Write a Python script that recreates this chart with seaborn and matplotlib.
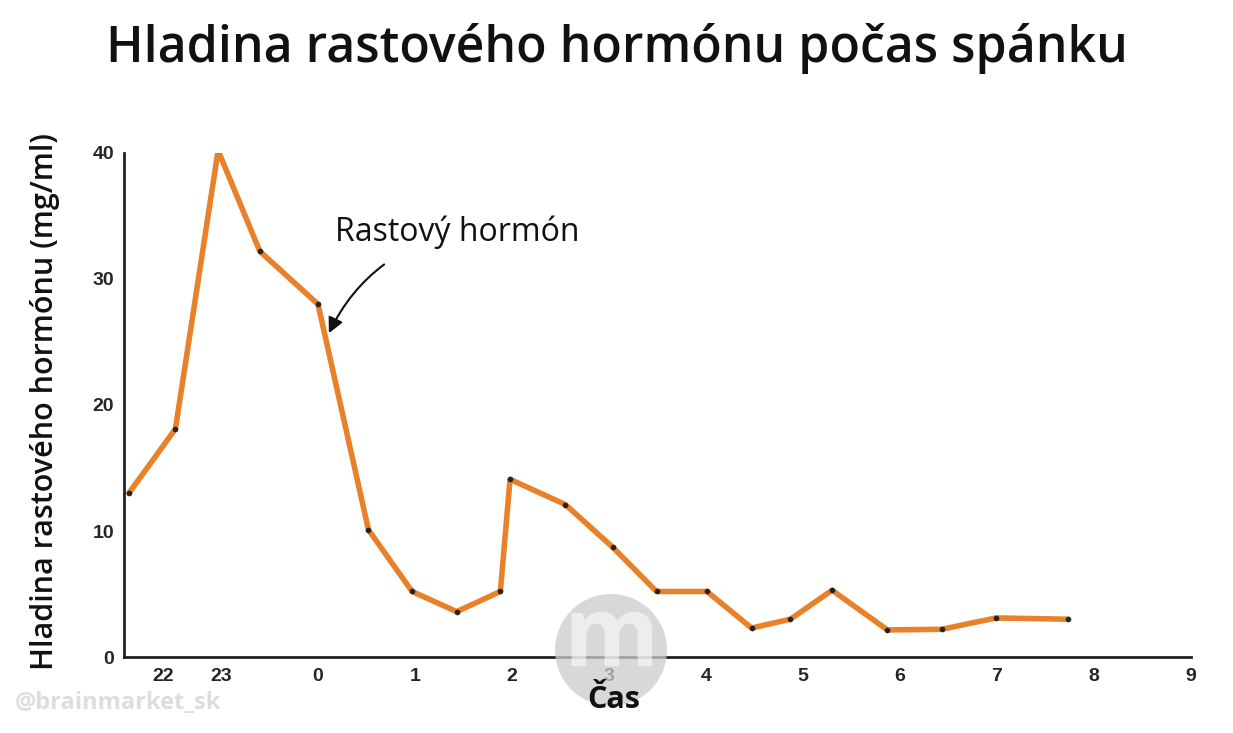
import numpy as np
import pandas as pd
import matplotlib
matplotlib.use("Agg")
import matplotlib.pyplot as plt
import seaborn as sns
from matplotlib.patches import Ellipse

# hours since 22:00 and hormone level
hours = [0.05, 0.53, 0.97, 1.40, 2.00, 2.52, 2.97, 3.43, 3.88, 3.98, 4.55,
         5.04, 5.49, 6.01, 6.47, 6.87, 7.30, 7.87, 8.43, 8.99, 9.73]
level = [13.0, 18.1, 40.2, 32.2, 28.0, 10.1, 5.2, 3.6, 5.2, 14.1, 12.1,
         8.7, 5.2, 5.2, 2.3, 3.0, 5.3, 2.15, 2.2, 3.1, 3.0]
tick_pos = [0, 1, 2, 3, 4, 5, 6, 7, 8, 9, 10, 11]
tick_labels = ["", "23", "0", "1", "2", "3", "4", "5", "6", "7", "8", "9"]
# the "22" label is printed a little right of the axis corner
first_pos = [0.4]
first_label = ["22"]
y_ticks = [0, 10, 20, 30, 40]

title = "Hladina rastového hormónu počas spánku"
y_label = "Hladina rastového hormónu (mg/ml)"
x_label = "Čas"
note = "Rastový hormón"
watermark = "@brainmarket_sk"

df = pd.DataFrame({"cas": hours, "hladina": level})

sns.set_style("white")
plt.rcParams["font.family"] = ["Open Sans", "DejaVu Sans"]

W, H = 1233, 733
fig = plt.figure(figsize=(W / 100, H / 100), dpi=100)
ax = fig.add_axes([124 / W, 1 - 657 / H, (1191 - 124) / W, (657 - 153) / H])

sns.lineplot(data=df, x="cas", y="hladina", ax=ax, color="#E8812A",
             linewidth=4, zorder=2)
sns.scatterplot(data=df, x="cas", y="hladina", ax=ax, color="#222222",
                s=14, edgecolor=None, zorder=3)

ax.set_xlim(0, 11)
ax.set_ylim(0, 40)
ax.set_xticks(tick_pos)
ax.set_xticklabels(tick_labels)
ax.set_xticks(first_pos, minor=True)
ax.set_xticklabels(first_label, minor=True)
ax.set_yticks(y_ticks)
ax.set_yticklabels([str(v) for v in y_ticks])
for lab in (ax.get_xticklabels() + ax.get_xticklabels(minor=True)
            + ax.get_yticklabels()):
    lab.set_fontfamily("Liberation Sans")
    lab.set_fontweight("bold")
    lab.set_fontsize(14)

ax.tick_params(axis="x", direction="in", length=7, width=1.5, pad=8, color="#222222")
ax.tick_params(axis="x", which="minor", length=0, pad=8)
ax.tick_params(axis="y", direction="out", length=5, width=1.5, pad=2, color="#222222")
sns.despine(ax=ax)
for side in ["left", "bottom"]:
    ax.spines[side].set_linewidth(2)
    ax.spines[side].set_color("#222222")

ax.set_xlabel("")
ax.set_ylabel("")

fig.text(0.5, 1 - 49 / H, title, ha="center", va="center",
         fontsize=36, fontweight="semibold", color="#111111")
fig.text(45 / W, 1 - 401 / H, y_label, rotation=90, ha="center", va="center",
         fontsize=22, fontweight="semibold", color="#111111")
fig.text(614 / W, 1 - 700 / H, x_label, ha="center", va="center",
         fontsize=22, fontweight="bold", color="#111111", zorder=7)

ax.annotate(note, xy=(2.1, 25.5), xytext=(2.18, 33.7), fontsize=23,
            fontweight="medium", color="#111111", ha="left", va="center",
            arrowprops=dict(arrowstyle="-|>", color="#111111", lw=1.5,
                            shrinkA=16, connectionstyle="arc3,rad=0.25"))

# watermark
fig.text(15 / W, 1 - 703 / H, watermark, ha="left", va="center",
         fontsize=17, fontweight="bold", color="#dddddd")
logo = Ellipse((611 / W, 1 - 650 / H), 112 / W, 112 / H, transform=fig.transFigure,
               color="#cccccc", alpha=0.75, zorder=5, ec="none")
fig.patches.append(logo)
fig.text(611 / W, 1 - 640 / H, "m", ha="center", va="center", fontsize=70,
         fontweight="bold", color="white", alpha=0.55, zorder=6)

fig.savefig("out.png", dpi=100, facecolor="white")
